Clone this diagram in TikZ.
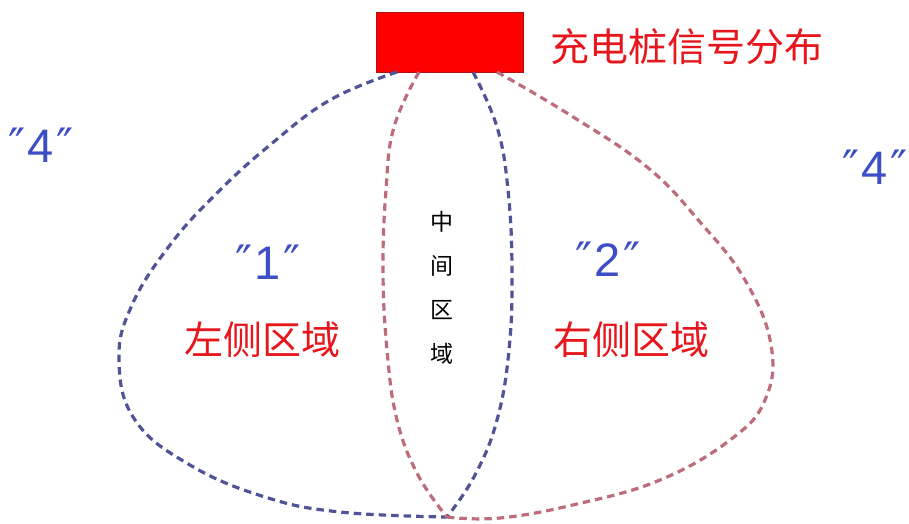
\documentclass[tikz,border=0pt]{standalone}
\usepackage{fontspec}
\newfontfamily\cjk{Noto Sans CJK SC}
\newfontfamily\lat{Liberation Sans}
\newfontfamily\qf{DejaVu Sans}
\definecolor{bline}{RGB}{80,84,150}
\definecolor{rline}{RGB}{188,108,122}
\definecolor{lblue}{RGB}{60,78,198}
\definecolor{tred}{RGB}{230,22,28}
\definecolor{boxred}{RGB}{255,0,0}
\definecolor{boxedge}{RGB}{170,20,20}
\tikzset{
  bluedash/.style={draw=bline, line width=3.2pt, dash pattern=on 7.5pt off 5pt},
  reddash/.style={draw=rline, line width=3.2pt, dash pattern=on 7.5pt off 5pt},
  numlabel/.style={text=lblue, font=\lat\fontsize{47}{47}\selectfont, inner sep=0},
  zonelabel/.style={text=tred, font=\cjk\fontsize{39}{39}\selectfont, inner sep=0},
  midchar/.style={text=black, font=\cjk\fontsize{23}{23}\selectfont, inner sep=0},
}
\newcommand{\qmark}{{\qf\fontsize{46}{46}\selectfont\raisebox{1pt}{″}}}
\newcommand{\qnum}[1]{\qmark\hspace{2pt}#1\hspace{2pt}\qmark}
\begin{document}
\begin{tikzpicture}[x=1pt,y=-1pt]
\useasboundingbox (0,0) rectangle (909,523);
\node[draw=boxedge, line width=1pt, fill=boxred, minimum width=147pt, minimum height=60pt, inner sep=0] (box) at (449.5,42) {};
\node[zonelabel, anchor=west] (title) at (550,47) {充电桩信号分布};
\coordinate (cross) at (447,517);
% blue left loop
\draw[bluedash] plot[smooth, tension=0.7] coordinates {(397,72) (330,100) (270,145) (217,193) (170,245) (132,305) (119,360) (135,420) (190,465) (265,497) (340,512) (447,517)};
% blue inner right
\draw[bluedash] plot[smooth, tension=0.7] coordinates {(473,72) (497,127) (508,190) (512,270) (509,350) (497,420) (475,475) (447,517)};
% red middle left
\draw[reddash] plot[smooth, tension=0.7] coordinates {(419,72) (394,127) (386,190) (383,270) (387,350) (397,420) (418,475) (447,517)};
% red right loop
\draw[reddash] plot[smooth, tension=0.7] coordinates {(497,72) (570,115) (647,167) (700,222) (745,280) (771,345) (765,400) (730,440) (660,480) (577,504) (500,518) (447,517)};
\node[numlabel] (n4l) at (41,145) {\qnum{4}};
\node[numlabel] (n4r) at (875,167) {\qnum{4}};
\node[numlabel] (n1) at (268,262) {\qnum{1}};
\node[numlabel] (n2) at (608,259) {\qnum{2}};
\node[zonelabel] (left) at (262,340) {左侧区域};
\node[zonelabel] (right) at (631,340) {右侧区域};
\node[midchar] (m1) at (442,222) {中};
\node[midchar] (m2) at (442,266) {间};
\node[midchar] (m3) at (442,310) {区};
\node[midchar] (m4) at (442,354) {域};
\end{tikzpicture}
\end{document}
